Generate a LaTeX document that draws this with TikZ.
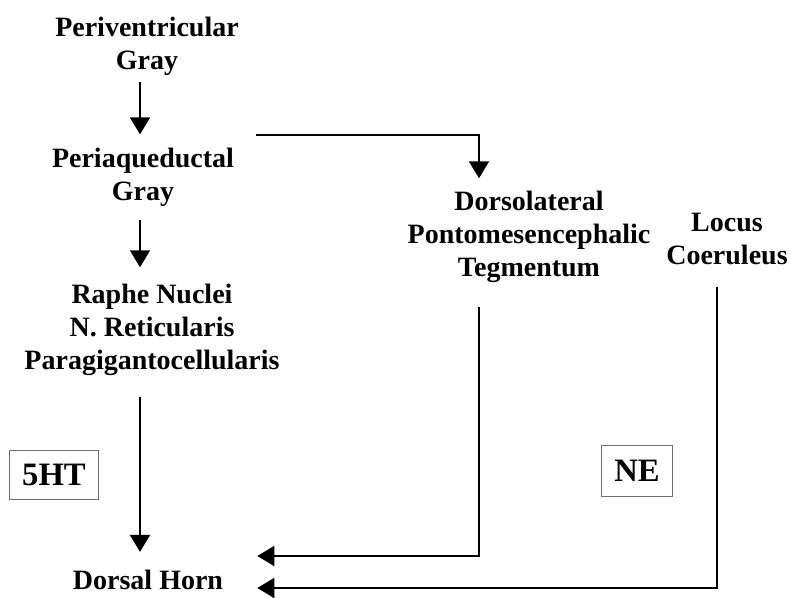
\documentclass[tikz,border=0pt]{standalone}
\usepackage{fontspec}
\setmainfont{Liberation Serif}
\usetikzlibrary{arrows.meta}
\begin{document}
\begin{tikzpicture}
  [x=0.75pt,y=-0.75pt,
   every node/.style={inner sep=0pt,align=center,font=\bfseries\fontsize{21}{24.5}\selectfont},
   arr/.style={-{Triangle[length=12.75pt,width=15pt]},line width=1.4pt},
   tag/.style={draw={rgb,255:red,112;green,112;blue,112},line width=0.8pt,font=\bfseries\fontsize{24.5}{28}\selectfont}]
\useasboundingbox (0,0) rectangle (791,597);
% Columna izquierda
  \node (pvg) at (147,46)  {Periventricular\\Gray};
  \node (pag) at (143,177) {Periaqueductal\\Gray};
  \node (rn)  at (152,330) {Raphe Nuclei\\N. Reticularis\\Paragigantocellularis};
  \node (dh)  at (148,580) {Dorsal Horn};
% Columna derecha
  \node (dpt) at (529,237) {Dorsolateral\\Pontomesencephalic\\Tegmentum};
  \node (lc)  at (727,239) {Locus\\Coeruleus};
  \node[tag,minimum width=66.75pt,minimum height=36.75pt] (sht) at (54,475) {5HT};
  \node[tag,minimum width=53.25pt,minimum height=38.25pt] (ne) at (637,471) {NE};
  \coordinate (pagr) at (256,135);

  % Flechas
  \draw[arr,shorten <=5pt,shorten >=10pt] ([xshift=-5.25pt]pvg.south) -- ([xshift=-2.25pt]pag.north);
  \draw[arr,shorten <=10.5pt,shorten >=12.75pt] ([xshift=-2.25pt]pag.south) -- ([xshift=-9pt]rn.north);
  \draw[arr,shorten <=16pt,shorten >=13.5pt] ([xshift=-9pt]rn.south) -- ([xshift=-6pt]dh.north);
  \draw[arr,shorten >=9.75pt] (pagr) -| ([xshift=-37.5pt]dpt.north);
  \draw[arr,shorten <=18pt,shorten >=25.5pt] ([xshift=-37.5pt]dpt.south) |- ([yshift=18pt]dh.east);
  \draw[arr,shorten <=16.5pt,shorten >=25.5pt] ([xshift=-7.5pt]lc.south) |- ([yshift=-6pt]dh.east);
\end{tikzpicture}
\end{document}
